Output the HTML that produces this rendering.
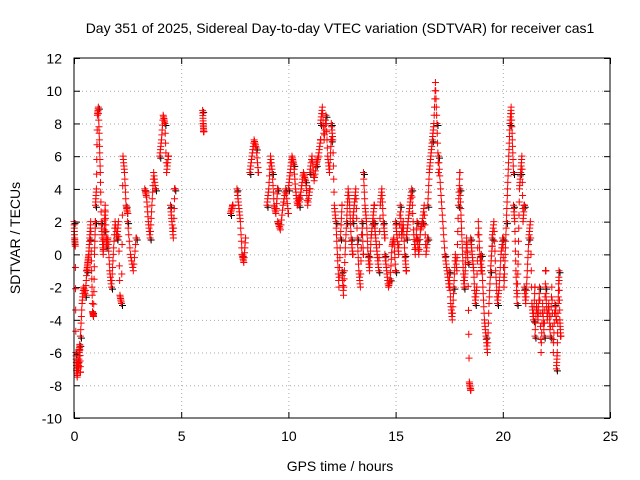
<!DOCTYPE html>
<html><head><meta charset="utf-8"><style>
body{margin:0;background:#fff;}
svg{display:block;font-family:"Liberation Sans",sans-serif;}
</style></head><body>
<svg id="chart" width="640" height="480" viewBox="0 0 640 480">
<rect width="640" height="480" fill="#fff"/>
<text x="340" y="33" font-size="14" text-anchor="middle">Day 351 of 2025, Sidereal Day-to-day VTEC variation (SDTVAR) for receiver cas1</text>
<text x="340" y="471" font-size="14" text-anchor="middle">GPS time / hours</text>
<text x="20" y="238" font-size="14" text-anchor="middle" transform="rotate(-90 20 238)">SDTVAR / TECUs</text>
<g id="grid"></g><g id="ticks"></g><g id="black"></g><g id="red"></g>
<rect x="74" y="58" width="536" height="360" fill="none" stroke="#000" stroke-width="1"/>
</svg>
<script>
const xTicks=[0,5,10,15,20,25];
const yTicks=[-10,-8,-6,-4,-2,0,2,4,6,8,10,12];
const segStart=[0,0.3,0.6,1.0,1.5,2.0,2.5,3.3,4.0,4.5,6.0,7.3,7.6,8.2,9.0,9.5,10.0,10.5,11.0,11.5,12.0,12.5,13.0,13.5,14.0,14.5,15.0,15.5,16.0,16.5,17.0,17.5,18.0,18.5,19.0,19.5,20.0,20.5,21.0,21.5,22.0,22.5];
const segEnd=[0.3,0.6,1.0,1.5,2.0,2.5,2.9,3.8,4.4,4.7,6.05,7.4,8.0,8.6,9.5,10.0,10.5,11.0,11.5,12.0,12.5,13.0,13.5,14.0,14.5,15.0,15.5,16.0,16.5,17.0,17.5,18.0,18.5,19.0,19.5,20.0,20.5,21.0,21.5,22.0,22.5,22.7];
const segValues=[
[2,1,0.5,-6,-7,-7.5,-6.5,-7,-6,-5.5,-7.2],
[-5,-3,-2,-2.5,-1],
[-1,-0.5,0,1,2,-1,-3.5,-3.8,0,2],
[3,4,8.5,9,7,5,2,1,0,1.5,3,1],
[0.5,1,-1,-2,0,2,1],
[1,2,-2.5,-3,6,5,3,2.5],
[2,0,-1,1],
[4,3.5,2,1,3,5,4],
[6,7,8.5,8,5,6],
[3,2,1,4],
[8.8,8,7.5],
[2.5,3],
[4,3,2,0,-0.5,1],
[5,6,7,6.5,5],
[3,4,6,5,3,2.5,4],
[2,1.5,3,4,2.5],
[4,5,6,5.5,4,3,3.5],
[3,4,5,4.5,3,4],
[5,6,4.5,5.5,6,7],
[8,9,7,8.5,6,5,7],
[8,7,3,2,0,-2,1,3],
[-1,-2.5,0,2,4,3,1,0],
[2,3,4,1,-1,-2,2,0],
[5,3,2,0,-1,1,2,3],
[2,1,0,-1,3,4,2,1],
[0,-1,-2,-1.5,0.5,1,-1],
[2,1,0,3,1,2,0,-1],
[1,2,3,4,1.5,0,2],
[1,0,1.5,2,3,0,1],
[3,5,6,7,8,10.5,8,5],
[6,4,2,0,-1,-2],
[-1,-3,-4,-2,0,-1,3,5],
[4,2,0,-2,-1,1,-0.5,-7.8,-8.3],
[1,0,-1,-3,-2,2,0,-1],
[0,-2,-4,-5,-6,-3,-1,0.5],
[1,2,-1,-3,-2,0,1],
[1,-2,0,2,4,6,8,9,7,5],
[3,2,-1,-3,0,4,5,6,2,3],
[-2,-3,-1,1,2,-3,-4,-2],
[-5,-3,-4,-2,-6,-3,-5,-1],
[-2,-4,-3,-5,-2,-6,-3,-4],
[-7,-6,-3,-1,-4,-5]
];
const X0=74,X1=610,Y0=418,Y1=58;
const sx=v=>X0+(v-0)/(25-0)*(X1-X0);
const sy=v=>Y0-(v+10)/(22)*(Y0-Y1);
const NS="http://www.w3.org/2000/svg";
const grid=document.getElementById('grid'),ticks=document.getElementById('ticks');
function line(p,x1,y1,x2,y2,st,dash){const l=document.createElementNS(NS,'line');l.setAttribute('x1',x1);l.setAttribute('y1',y1);l.setAttribute('x2',x2);l.setAttribute('y2',y2);l.setAttribute('stroke',st);l.setAttribute('stroke-width',1);if(dash)l.setAttribute('stroke-dasharray',dash);p.appendChild(l);return l;}
function txt(p,x,y,s,a){const t=document.createElementNS(NS,'text');t.setAttribute('x',x);t.setAttribute('y',y);t.setAttribute('font-size',14);t.setAttribute('text-anchor',a);t.textContent=s;p.appendChild(t);return t;}
xTicks.forEach(v=>{const x=sx(v)+0.5;
 if(v>0&&v<25){const g=line(grid,x,Y0,x,Y1,'#aaa','1,3');}
 line(ticks,x,Y0,x,Y0-6,'#000');line(ticks,x,Y1,x,Y1+6,'#000');
 const t=txt(ticks,x,441,String(v),'middle');
 
 });
yTicks.forEach(v=>{const y=sy(v)+0.5;
 if(v>-10&&v<12){const g=line(grid,X0,y,X1,y,'#aaa','1,3');}
 line(ticks,X0,y,X0+6,y,'#000');line(ticks,X1,y,X1-6,y,'#000');
 const t=txt(ticks,62,y+5,String(v),'end');
 
 });
function plus(p,x,y,c,name){const pa=document.createElementNS(NS,'path');pa.setAttribute('d',`M${x-3.5},${y}h7M${x},${y-3.5}v7`);pa.setAttribute('stroke',c);pa.setAttribute('stroke-width',1);
 
 
 p.appendChild(pa);}
const red=document.getElementById('red'),black=document.getElementById('black');
segValues.forEach((vals,i)=>{const a=segStart[i],b=segEnd[i],n=vals.length;
 for(let k=0;k<n;k++){const t=a+(b-a)*(n>1?k/(n-1):0);
  const tn=k<n-1?a+(b-a)*((k+1)/(n-1)):t,vn=k<n-1?vals[k+1]:vals[k];
  if(k%3===0)plus(black,sx(t)+1,sy(vals[k])+2,'#000','black-point');
  for(let j=0;j<5;j++){const f=j/5;plus(red,sx(t+(tn-t)*f),sy(vals[k]+(vn-vals[k])*f),'#f00','red-point');}
 }});
</script>
</body></html>
